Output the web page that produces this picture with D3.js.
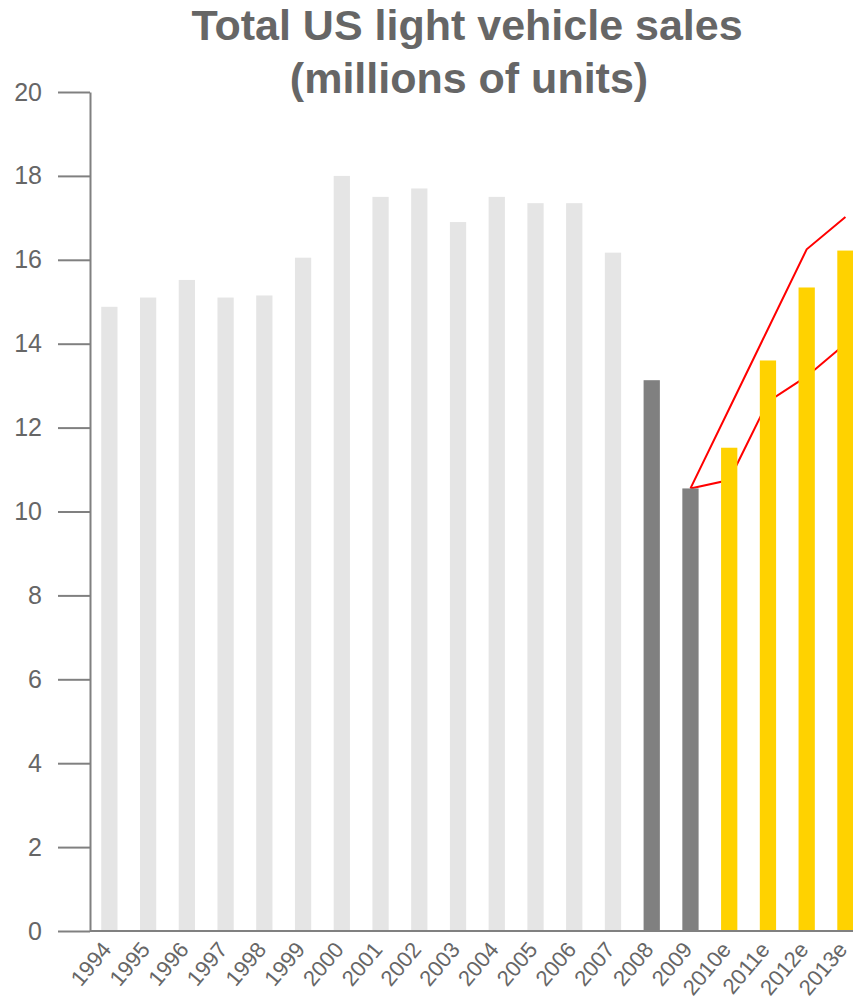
<!DOCTYPE html>
<html>
<head>
<meta charset="utf-8">
<script src="https://cdn.jsdelivr.net/npm/d3@7"></script>
<style>
  body { margin: 0; background: #fff; }
  svg text { font-family: "Liberation Sans", Arial, sans-serif; fill: #666; }
</style>
</head>
<body>
<div id="chart"></div>
<script>
// data
var years = ['1994','1995','1996','1997','1998','1999','2000','2001','2002','2003',
             '2004','2005','2006','2007','2008','2009','2010e','2011e','2012e','2013e'];
var sales = [14.88, 15.1, 15.52, 15.1, 15.15, 16.05, 18.0, 17.5, 17.7, 16.9,
             17.5, 17.35, 17.35, 16.17, 13.13, 10.55, 11.52, 13.6, 15.34, 16.22];
var kinds = ['hist','hist','hist','hist','hist','hist','hist','hist','hist','hist',
             'hist','hist','hist','hist','recent','recent','fcst','fcst','fcst','fcst'];
var rangeYears = ['2009','2010e','2011e','2012e','2013e'];
var highCase = [10.55, 12.45, 14.35, 16.25, 17.02];
var lowCase  = [10.55, 10.75, 12.62, 13.22, 14.0];
var yTicks = [0, 2, 4, 6, 8, 10, 12, 14, 16, 18, 20];

var colors = { hist: '#e5e5e5', recent: '#808080', fcst: '#ffd200' };

var width = 853, height = 1003;
var margin = {top: 92, left: 90, bottom: 72};

var svg = d3.select('#chart').append('svg')
  .attr('width', width)
  .attr('height', height);

var x = d3.scaleBand()
  .domain(years)
  .range([margin.left, margin.left + 20 * 38.74])
  .padding(0);

var y = d3.scaleLinear()
  .domain([0, 20])
  .range([height - margin.bottom, margin.top]);

var barW = x.bandwidth() * 0.42;

// title
var title = svg.append('text')
  .attr('text-anchor', 'middle')
  .style('font-size', '43px')
  .style('font-weight', 'bold');
title.append('tspan').attr('x', 467).attr('y', 40).text('Total US light vehicle sales');
title.append('tspan').attr('x', 469).attr('y', 93).text('(millions of units)');

// forecast range lines (under the bars)
var line = d3.line()
  .x(function(d, i) { return x(rangeYears[i]) + x.bandwidth() / 2; })
  .y(function(d) { return y(d); });

svg.append('path')
  .datum(highCase)
  .attr('d', line)
  .attr('fill', 'none')
  .attr('stroke', '#ff0000')
  .attr('stroke-width', 2);

svg.append('path')
  .datum(lowCase)
  .attr('d', line)
  .attr('fill', 'none')
  .attr('stroke', '#ff0000')
  .attr('stroke-width', 2);

// bars
svg.selectAll('rect.bar')
  .data(sales)
  .enter()
  .append('rect')
  .attr('class', 'bar')
  .attr('x', function(d, i) { return x(years[i]) + (x.bandwidth() - barW) / 2; })
  .attr('y', function(d) { return y(d); })
  .attr('width', barW)
  .attr('height', function(d) { return y(0) - y(d); })
  .attr('fill', function(d, i) { return colors[kinds[i]]; });

// y axis
var yAxis = svg.append('g')
  .attr('transform', 'translate(' + margin.left + ',0)')
  .call(d3.axisLeft(y).tickValues(yTicks).tickSize(32).tickPadding(16).tickSizeOuter(0));
yAxis.select('.domain').attr('stroke', '#808080').attr('stroke-width', 2);
yAxis.selectAll('.tick line').attr('stroke', '#808080').attr('stroke-width', 2);
yAxis.selectAll('.tick text')
  .style('font-size', '25px')
  .style('font-family', '"Liberation Sans", Arial, sans-serif')
  .attr('fill', '#666');

// x axis
var xAxis = svg.append('g')
  .attr('transform', 'translate(0,' + y(0) + ')')
  .call(d3.axisBottom(x).tickSize(0).tickSizeOuter(0));
xAxis.select('.domain')
  .attr('d', 'M' + margin.left + ',0H' + width)
  .attr('stroke', '#808080').attr('stroke-width', 2);
xAxis.selectAll('.tick text')
  .style('font-size', '22px')
  .style('font-family', '"Liberation Sans", Arial, sans-serif')
  .attr('fill', '#666')
  .attr('text-anchor', 'end')
  .attr('dy', 0)
  .attr('y', 0)
  .attr('x', 0)
  .attr('transform', 'translate(3,19) rotate(-50)');
</script>
</body>
</html>
